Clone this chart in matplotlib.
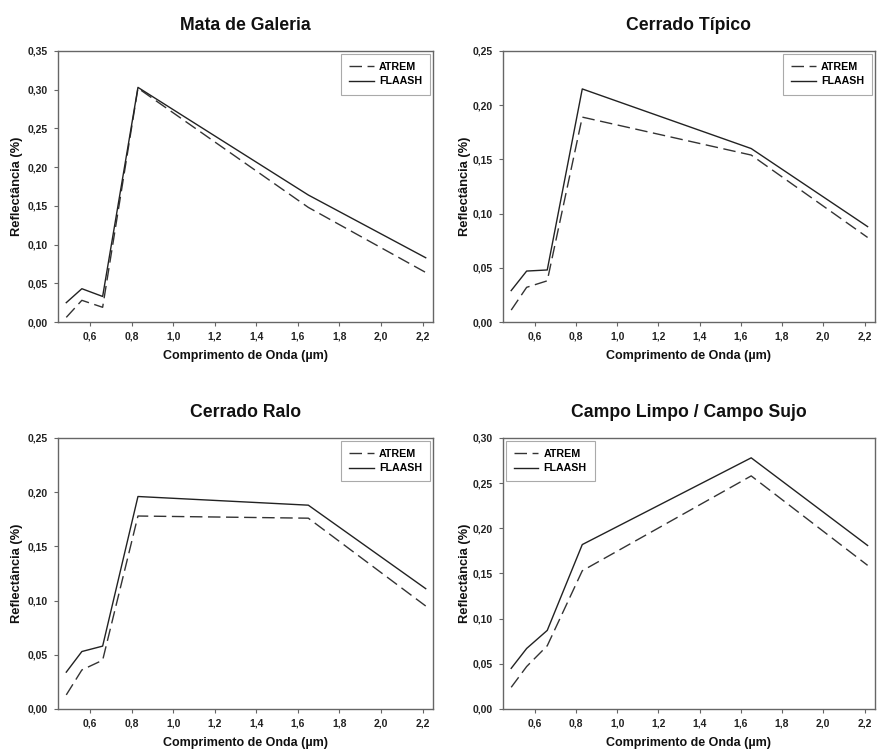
import matplotlib
matplotlib.use("Agg")
import matplotlib.pyplot as plt
from matplotlib.ticker import FuncFormatter, MultipleLocator

plt.rcParams['font.family'] = ['Liberation Sans', 'DejaVu Sans']

wavelength = [0.485, 0.56, 0.66, 0.83, 1.65, 2.215]

titles = ["Mata de Galeria", "Cerrado Típico", "Cerrado Ralo", "Campo Limpo / Campo Sujo"]

atrem_mata = [0.006, 0.028, 0.019, 0.302, 0.148, 0.064]
flaash_mata = [0.025, 0.043, 0.033, 0.303, 0.164, 0.083]

atrem_tipico = [0.011, 0.032, 0.038, 0.189, 0.154, 0.078]
flaash_tipico = [0.029, 0.047, 0.048, 0.215, 0.160, 0.088]

atrem_ralo = [0.013, 0.036, 0.045, 0.178, 0.176, 0.095]
flaash_ralo = [0.034, 0.053, 0.058, 0.196, 0.188, 0.111]

atrem_campo = [0.024, 0.047, 0.070, 0.153, 0.258, 0.159]
flaash_campo = [0.045, 0.067, 0.087, 0.182, 0.278, 0.181]

ymax = [0.35, 0.25, 0.25, 0.30]
legend_loc = ["upper right", "upper right", "upper right", "upper left"]

atrem_all = [atrem_mata, atrem_tipico, atrem_ralo, atrem_campo]
flaash_all = [flaash_mata, flaash_tipico, flaash_ralo, flaash_campo]

fig = plt.figure(figsize=(8.77, 7.52), dpi=100)

positions = [
    [0.0661, 0.5718, 0.4276, 0.3604],
    [0.5735, 0.5718, 0.4240, 0.3604],
    [0.0661, 0.0572, 0.4276, 0.3604],
    [0.5735, 0.0572, 0.4240, 0.3604],
]
ylabel_x = [-0.093, -0.086, -0.093, -0.086]

comma = FuncFormatter(lambda v, p: f"{v:.1f}".replace(".", ","))
comma2 = FuncFormatter(lambda v, p: f"{v:.2f}".replace(".", ","))

line_color = "#222222"
spine_color = "#666666"

for i in range(4):
    ax = fig.add_axes(positions[i])
    ax.plot(wavelength, atrem_all[i], color="#333333", lw=1.0, dashes=(9, 4), label="ATREM")
    ax.plot(wavelength, flaash_all[i], color=line_color, lw=1.0, label="FLAASH")
    ax.set_xlim(0.445, 2.25)
    ax.set_ylim(0, ymax[i])
    ax.set_xticks([0.6, 0.8, 1.0, 1.2, 1.4, 1.6, 1.8, 2.0, 2.2])
    ax.yaxis.set_major_locator(MultipleLocator(0.05))
    ax.xaxis.set_major_formatter(comma)
    ax.yaxis.set_major_formatter(comma2)
    for s in ax.spines.values():
        s.set_color(spine_color)
        s.set_linewidth(1.0)
    ax.tick_params(axis='both', direction='out', length=3, width=0.8, color=spine_color,
                   labelsize=7.5, pad=4)
    for lab in ax.get_xticklabels() + ax.get_yticklabels():
        lab.set_fontweight('bold')
        lab.set_color("#222222")
    ax.set_title(titles[i], fontsize=12.7, fontweight='bold', pad=15, color="#111111")
    ax.set_xlabel("Comprimento de Onda (µm)", fontsize=9, fontweight='bold', labelpad=6, color="#111111")
    ax.set_ylabel("Reflectância (%)", fontsize=9.3, fontweight='bold', color="#111111")
    ax.yaxis.set_label_coords(ylabel_x[i], 0.5)
    leg = ax.legend(loc=legend_loc[i], prop={'weight': 'bold', 'size': 7.7},
                    fancybox=False, framealpha=1, edgecolor="#aaaaaa", handlelength=2.3,
                    handletextpad=0.5, borderpad=0.75, labelspacing=0.45, borderaxespad=0.25)
    leg.get_frame().set_linewidth(0.8)

fig.savefig("out.png", dpi=100, facecolor="white")
